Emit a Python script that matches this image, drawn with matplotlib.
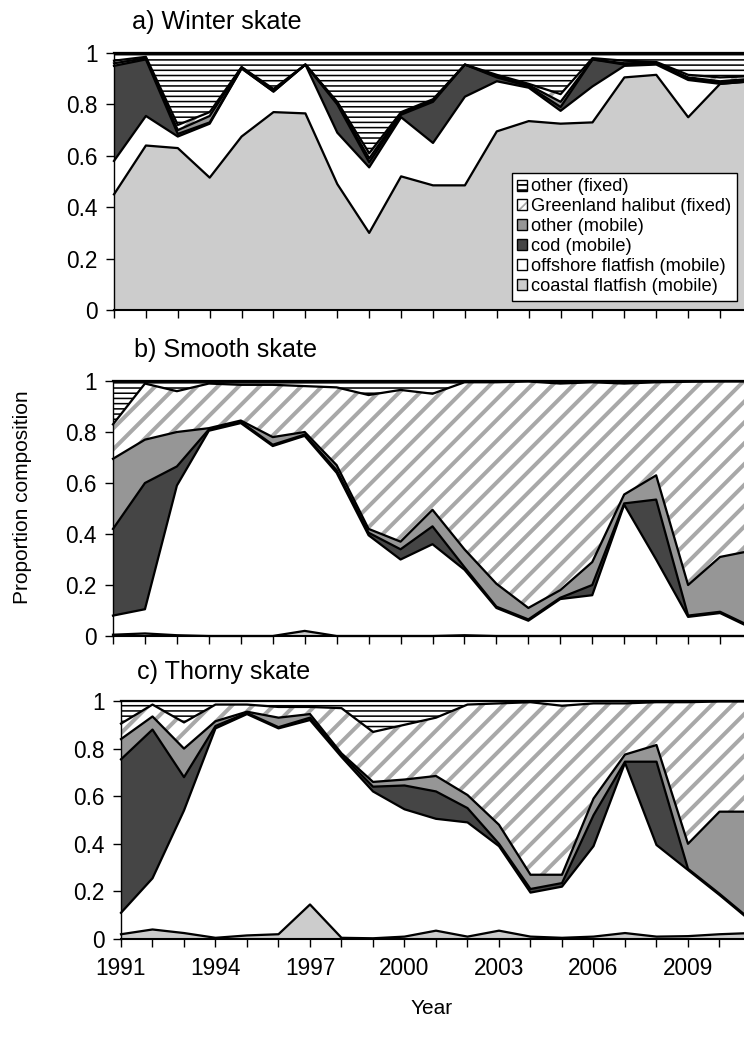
import numpy as np
import matplotlib.pyplot as plt
from matplotlib.patches import Patch

plt.rcParams['font.family'] = ['Liberation Sans', 'DejaVu Sans']

years = np.arange(1991, 2012)

labels = ['coastal flatfish (mobile)', 'offshore flatfish (mobile)', 'cod (mobile)',
          'other (mobile)', 'Greenland halibut (fixed)', 'other (fixed)']

# a) Winter skate
winter_coastal = [0.45, 0.64, 0.63, 0.515, 0.675, 0.77, 0.765, 0.49, 0.30, 0.52, 0.485,
                  0.485, 0.695, 0.735, 0.725, 0.73, 0.905, 0.915, 0.75, 0.88, 0.89]
winter_offshore = [0.13, 0.115, 0.045, 0.21, 0.265, 0.08, 0.19, 0.20, 0.255, 0.23, 0.165,
                   0.345, 0.195, 0.13, 0.05, 0.14, 0.045, 0.04, 0.145, 0.0, 0.0]
winter_cod = [0.37, 0.22, 0.01, 0.005, 0.0, 0.0, 0.0, 0.11, 0.02, 0.01, 0.16,
              0.125, 0.015, 0.005, 0.015, 0.105, 0.005, 0.005, 0.005, 0.005, 0.005]
winter_other_mob = [0.01, 0.005, 0.015, 0.025, 0.005, 0.005, 0.0, 0.005, 0.015, 0.005, 0.005,
                    0.0, 0.005, 0.005, 0.02, 0.0, 0.005, 0.002, 0.005, 0.005, 0.005]
winter_ghal = [0.01, 0.005, 0.02, 0.015, 0.0, 0.005, 0.0, 0.005, 0.02, 0.005, 0.005,
               0.0, 0.005, 0.005, 0.03, 0.005, 0.01, 0.003, 0.01, 0.015, 0.01]
winter_other_fix = [0.03, 0.015, 0.28, 0.23, 0.055, 0.14, 0.045, 0.19, 0.39, 0.23, 0.18,
                    0.045, 0.085, 0.12, 0.16, 0.02, 0.03, 0.035, 0.085, 0.095, 0.09]

# b) Smooth skate
smooth_coastal = [0.005, 0.01, 0.003, 0.0, 0.0, 0.0, 0.02, 0.0, 0.0, 0.0, 0.0,
                  0.003, 0.0, 0.0, 0.0, 0.0, 0.0, 0.0, 0.0, 0.0, 0.0]
smooth_offshore = [0.075, 0.095, 0.587, 0.805, 0.835, 0.745, 0.765, 0.64, 0.395, 0.30, 0.36,
                   0.257, 0.11, 0.06, 0.145, 0.16, 0.515, 0.30, 0.075, 0.09, 0.03]
smooth_cod = [0.34, 0.495, 0.075, 0.005, 0.005, 0.005, 0.005, 0.01, 0.01, 0.04, 0.07,
              0.01, 0.005, 0.005, 0.005, 0.04, 0.005, 0.235, 0.005, 0.005, 0.005]
smooth_other_mob = [0.275, 0.17, 0.135, 0.005, 0.005, 0.03, 0.01, 0.02, 0.015, 0.03, 0.065,
                    0.07, 0.09, 0.045, 0.03, 0.09, 0.035, 0.095, 0.12, 0.215, 0.30]
smooth_ghal = [0.135, 0.22, 0.16, 0.175, 0.14, 0.205, 0.18, 0.305, 0.525, 0.595, 0.455,
               0.655, 0.79, 0.888, 0.81, 0.705, 0.435, 0.365, 0.797, 0.688, 0.663]
smooth_other_fix = [0.17, 0.01, 0.04, 0.01, 0.015, 0.015, 0.02, 0.025, 0.055, 0.035, 0.05,
                    0.005, 0.005, 0.002, 0.01, 0.005, 0.01, 0.005, 0.003, 0.002, 0.002]

# c) Thorny skate
thorny_coastal = [0.02, 0.04, 0.025, 0.005, 0.015, 0.02, 0.145, 0.005, 0.003, 0.01, 0.035,
                  0.01, 0.035, 0.01, 0.005, 0.01, 0.025, 0.01, 0.012, 0.02, 0.025]
thorny_offshore = [0.09, 0.215, 0.515, 0.88, 0.93, 0.865, 0.775, 0.76, 0.617, 0.535, 0.47,
                   0.48, 0.355, 0.185, 0.215, 0.38, 0.715, 0.385, 0.278, 0.165, 0.05]
thorny_cod = [0.645, 0.625, 0.14, 0.01, 0.005, 0.005, 0.01, 0.01, 0.02, 0.10, 0.115,
              0.06, 0.01, 0.015, 0.015, 0.13, 0.005, 0.35, 0.005, 0.005, 0.005]
thorny_other_mob = [0.085, 0.055, 0.12, 0.02, 0.005, 0.04, 0.015, 0.005, 0.02, 0.025, 0.065,
                    0.055, 0.08, 0.06, 0.035, 0.07, 0.03, 0.07, 0.105, 0.345, 0.455]
thorny_ghal = [0.065, 0.05, 0.11, 0.07, 0.03, 0.045, 0.03, 0.19, 0.21, 0.23, 0.245,
               0.38, 0.51, 0.725, 0.71, 0.40, 0.215, 0.18, 0.595, 0.463, 0.463]
thorny_other_fix = [0.095, 0.015, 0.09, 0.015, 0.015, 0.025, 0.025, 0.03, 0.13, 0.10, 0.07,
                    0.015, 0.01, 0.005, 0.02, 0.01, 0.01, 0.005, 0.005, 0.002, 0.002]

panels = [
    ('a) Winter skate', [winter_coastal, winter_offshore, winter_cod,
                         winter_other_mob, winter_ghal, winter_other_fix]),
    ('b) Smooth skate', [smooth_coastal, smooth_offshore, smooth_cod,
                         smooth_other_mob, smooth_ghal, smooth_other_fix]),
    ('c) Thorny skate', [thorny_coastal, thorny_offshore, thorny_cod,
                         thorny_other_mob, thorny_ghal, thorny_other_fix]),
]

# facecolor, hatch, hatch colour, hatch linewidth
styles = [
    ('#cccccc', None, 'none', 1.0),
    ('#ffffff', None, 'none', 1.0),
    ('#454545', None, 'none', 1.0),
    ('#969696', None, 'none', 1.0),
    ('#ffffff', '//', '#a8a8a8', 2.3),
    ('#ffffff', '----', '#000000', 0.9),
]

W, H, DPI = 744, 1040, 125
fig = plt.figure(figsize=(W / DPI, H / DPI), dpi=DPI)

# axes boxes in pixels: left, top, right, bottom
boxes = [(114, 53, 752, 310), (113, 381, 752, 636), (121, 701, 751, 939)]
title_pos = [(132, 22), (134, 350), (137, 672)]

for k, ((title, series), (l, t, r, b)) in enumerate(zip(panels, boxes)):
    ax = fig.add_axes([l / W, 1 - b / H, (r - l) / W, (b - t) / H])
    data = np.array(series, dtype=float)
    data = data / data.sum(axis=0)
    base = np.zeros(len(years))
    for vals, (fc, hatch, hc, hlw) in zip(data, styles):
        top = base + vals
        poly = ax.fill_between(years, base, top, facecolor=fc, hatch=hatch,
                               edgecolor=hc, linewidth=0)
        if hatch and hasattr(poly, 'set_hatch_linewidth'):
            poly.set_hatch_linewidth(hlw)
        ax.plot(years, top, color='k', lw=1.3, clip_on=False, zorder=3)
        base = top

    ax.set_xlim(1991, 2011)
    ax.set_ylim(0, 1)
    ax.set_yticks([0, 0.2, 0.4, 0.6, 0.8, 1])
    ax.set_yticklabels(['0', '0.2', '0.4', '0.6', '0.8', '1'])
    ax.set_xticks(years)
    if k == 2:
        ax.set_xticklabels([str(y) if (y - 1991) % 3 == 0 else '' for y in years])
    else:
        ax.set_xticklabels([])
    ax.tick_params(direction='out', length=4.5, width=0.8, labelsize=13, colors='k')
    ax.tick_params(axis='y', pad=5)
    ax.tick_params(axis='x', pad=6)
    for s in ['top', 'right']:
        ax.spines[s].set_visible(False)
    ax.spines['left'].set_linewidth(0.8)
    ax.spines['bottom'].set_linewidth(1.2)

    tx, ty = title_pos[k]
    fig.text(tx / W, 1 - ty / H, title, fontsize=14.5, ha='left', va='center')

    if k == 0:
        handles = []
        for fc, hatch, hc, hlw in styles[::-1]:
            if hatch:
                handles.append((Patch(facecolor=fc, hatch=hatch, edgecolor=hc, linewidth=0),
                                Patch(facecolor='none', edgecolor='k', linewidth=0.8)))
            else:
                handles.append(Patch(facecolor=fc, edgecolor='k', linewidth=0.8))
        leg = ax.legend(handles, labels[::-1], loc='upper left',
                        bbox_to_anchor=(512 / W, 1 - 173 / H),
                        bbox_transform=fig.transFigure, borderaxespad=0,
                        fontsize=10.5, frameon=True, fancybox=False, shadow=False,
                        handlelength=0.55, handleheight=0.55, handletextpad=0.2,
                        labelspacing=0.16, borderpad=0.3, framealpha=1)
        leg.get_frame().set_edgecolor('k')
        leg.get_frame().set_linewidth(0.8)

fig.text(23 / W, 1 - 497 / H, 'Proportion composition', rotation=90,
         fontsize=12, ha='center', va='center')
fig.text(432 / W, 1 - 1008 / H, 'Year', fontsize=12, ha='center', va='center')

fig.savefig('out.png', dpi=DPI)
